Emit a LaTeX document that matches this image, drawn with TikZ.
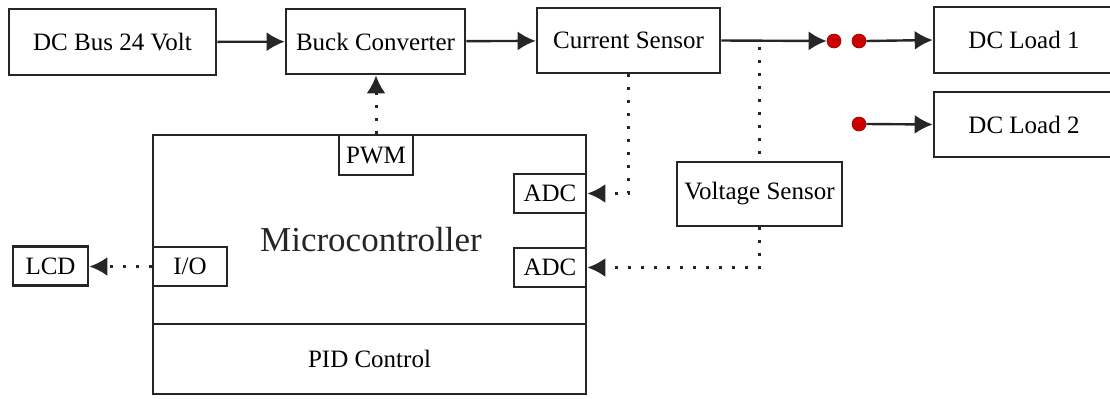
\documentclass[tikz,border=0pt]{standalone}
\usepackage{fontspec}
\setmainfont{Liberation Serif}
\usepackage{tikz}
\usetikzlibrary{arrows.meta, positioning, calc}

\begin{document}
\begin{tikzpicture}[x=0.5pt, y=-0.5pt, >={Latex[length=9pt, width=9.5pt]}]
        \tikzstyle{box} = [rectangle, draw=black!85, line width=1.3pt, text centered, inner sep=0pt, font=\fontsize{12.5}{14}\selectfont]
        \tikzstyle{bigBox} = [box, minimum width=103.5pt, minimum height=33pt]
        \tikzstyle{portBox} = [box, minimum width=37pt, minimum height=19.5pt]
        \tikzstyle{junction} = [circle, fill=red!80!black, draw=red!60!black, line width=0.3pt, minimum size=7pt, inner sep=0pt]
        \tikzstyle{power} = [->, line width=1.2pt, draw=black!85]
        \tikzstyle{signal} = [->, line width=1.5pt, draw=black!85, dash pattern=on 1.5pt off 5pt]

        \useasboundingbox (0,0) rectangle (1110,398);

        \node[bigBox] (bus) at (112.5, 42) {DC Bus 24 Volt};
        \node[bigBox, minimum width=89.5pt, minimum height=32.5pt] (buck) at (375.5, 41.5) {Buck Converter};
        \node[bigBox, minimum width=91.5pt, minimum height=32.5pt] (cur) at (628.5, 40.5) {Current Sensor};
        \node[bigBox, minimum width=90pt] (load1) at (1024, 40) {DC Load 1};
        \node[bigBox, minimum width=90pt, minimum height=32.5pt] (load2) at (1024, 124.5) {DC Load 2};
        \node[bigBox, minimum width=82.5pt, minimum height=32pt] (volt) at (759.5, 194) {Voltage Sensor};

        \node[junction] (j1) at (834, 41) {};
        \node[junction] (j2) at (859, 41) {};
        \node[junction] (j3) at (859, 124) {};

        % microcontroller
        \node[box, minimum width=216.5pt, minimum height=94.5pt] (mcu) at (369.5, 229.5) {};
        \node[box, minimum width=216.5pt, minimum height=35pt] (pid) at (369.5, 359) {PID Control};
        \node[font=\fontsize{17.5}{20}\selectfont, text=black!85] (mcuname) at (371, 240) {Microcontroller};

        \node[portBox, minimum height=20pt] (pwm) at (376, 155) {PWM};
        \node[portBox, minimum width=36pt] (adc1) at (550, 193.5) {ADC};
        \node[portBox, minimum width=36pt] (adc2) at (550, 267.5) {ADC};
        \node[portBox] (io) at (190, 266.5) {I/O};
        \node[portBox, minimum width=37.5pt] (lcd) at (50.5, 266) {LCD};

        \coordinate (tap) at (volt.north |- cur.east);

        \draw[power] (bus) -- (buck);
        \draw[power] (buck) -- (cur);
        \draw[power] (cur.east) -- (j1.west);
        \draw[power] (j2.east) -- (load1.west);
        \draw[power] (j3.east) -- (load2.west);

        \draw[signal, -] ([yshift=-3pt]tap) -- (volt.north);
        \draw[signal] (cur.south) |- (adc1.east);
        \draw[signal] (volt.south) |- (adc2.east);
        \draw[signal] (pwm.north) -- (pwm.north |- buck.south);
        \draw[signal] (io.west) -- (io.west -| lcd.east);
    \end{tikzpicture}
\end{document}
